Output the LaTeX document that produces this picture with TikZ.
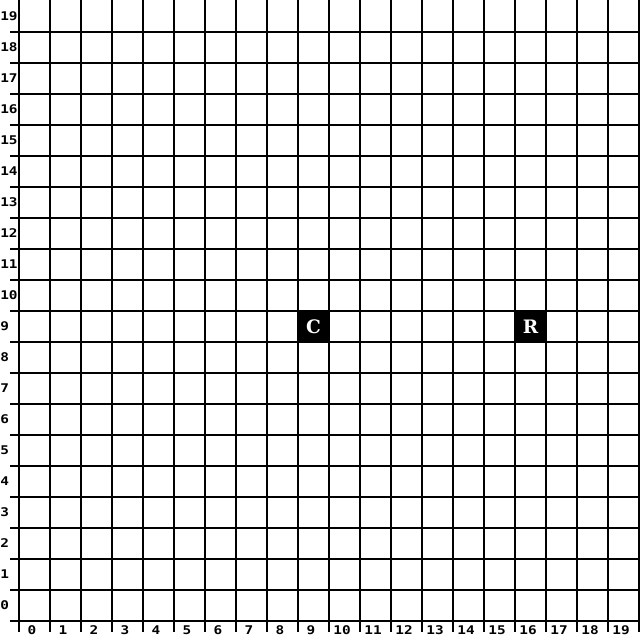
\documentclass[tikz,border=0pt]{standalone}
\usepackage{fontspec}
\newfontfamily\gridfont[FakeStretch=1.2]{DejaVu Sans Mono Bold}
\newfontfamily\markfont{DejaVu Serif Bold}
\usetikzlibrary{positioning}
\tikzstyle{gridline} = [line width=1.85pt, black]
\tikzstyle{collabel} = [inner sep=0pt, anchor=base, font=\gridfont\fontsize{11}{11}\selectfont]
\tikzstyle{rowlabel} = [inner sep=0pt, anchor=base west, font=\gridfont\fontsize{11}{11}\selectfont]
\tikzstyle{cellmark} = [
  rectangle,
  minimum size=1cm,
  inner sep=0pt,
  fill=black,
  text=white,
  font=\markfont\fontsize{17}{17}\selectfont
]

\begin{document}
\begin{tikzpicture}
    \useasboundingbox (-0.613,-0.613) rectangle (20.032,20.032);
    \foreach \i in {0,...,20}
        \draw [gridline] (\i,-0.355) -- (\i,20.1);
    \foreach \j in {0,...,19}
        \draw [gridline] (-0.29,\j) -- (20.1,\j);
    \foreach \k in {0,...,19} {
        \node (col\k) [collabel] at (\k+0.42,-0.43) {\k};
        \node (row\k) [rowlabel] at (-0.61,\k+0.37) {\k};
    }
    \node (cellC) [cellmark] at (9.5,9.5) {C};
    \node (cellR) [cellmark] at (16.5,9.5) {R};
\end{tikzpicture}
\end{document}
